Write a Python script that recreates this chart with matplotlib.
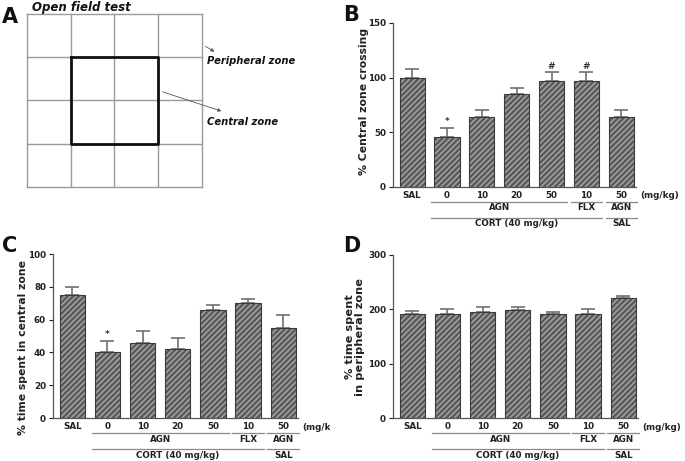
import matplotlib
matplotlib.use("Agg")
import matplotlib.pyplot as plt
import matplotlib.transforms as mtransforms
from matplotlib.transforms import Bbox
import numpy as np

plt.rcParams['font.family'] = ['DejaVu Sans']
plt.rcParams['hatch.linewidth'] = 1.2

# ---------------- data ----------------
tick_labels = ["SAL", "0", "10", "20", "50", "10", "50"]
row2_groups = [("AGN", 1, 4), ("FLX", 5, 5), ("AGN", 6, 6)]
row3_groups = [("CORT (40 mg/kg)", 1, 5), ("SAL", 6, 6)]
unit_label = "(mg/kg)"

crossing_mean = [100, 46, 64, 85, 97, 97, 64]
crossing_sem = [8, 8, 6, 6, 8, 8, 6]
crossing_marks = {1: "*", 4: "#", 5: "#"}

central_mean = [75, 40, 46, 42, 66, 70, 55]
central_sem = [5, 7, 7, 7, 3, 2.5, 8]
central_marks = {1: "*"}

peripheral_mean = [192, 192, 196, 198, 192, 192, 221]
peripheral_sem = [5, 9, 8, 7, 4, 8, 4]
peripheral_marks = {}

W, H = 685, 461
fig = plt.figure(figsize=(W / 100, H / 100), dpi=100)

BAR_FACE = "#585858"
HATCH_COL = "#a0a0a0"
LINE_GRAY = "#8a8a8a"
ERR_GRAY = "#707070"
SMALL = 6.3


def px_axes(left, top, right, bottom):
    return fig.add_axes([left / W, 1 - bottom / H, (right - left) / W, (bottom - top) / H])


def bar_panel(ax, means, sems, marks, ylim, yticks, ylabel, label_x, label_y=0.5,
              label_size=7.8, unit_clip=None):
    x = np.arange(len(means))
    bars = ax.bar(x, means, width=0.72, color=BAR_FACE, edgecolor="#3a3a3a",
                  linewidth=0.8, hatch="//////", zorder=2)
    for b in bars:
        b._hatch_color = matplotlib.colors.to_rgba(HATCH_COL)
    ax.errorbar(x, means, yerr=[np.zeros(len(sems)), sems], fmt="none",
                ecolor=ERR_GRAY, elinewidth=1.2, capsize=5.2, capthick=1.2, zorder=1)
    for i, m in marks.items():
        ax.text(x[i], means[i] + sems[i] + (ylim[1] * 0.01), m, ha="center", va="bottom",
                fontsize=6.5, color="#333333", fontweight="bold")
    ax.set_ylim(*ylim)
    ax.set_xlim(-0.55, len(means) - 0.58)
    ax.set_yticks(yticks)
    ax.set_xticks(x)
    ax.set_xticklabels(tick_labels)
    ax.tick_params(axis="x", length=0, pad=3, labelsize=SMALL, colors="#222222")
    ax.tick_params(axis="y", length=3, width=0.8, pad=2, labelsize=SMALL, colors="#222222",
                   direction="out")
    for lab in ax.get_xticklabels() + ax.get_yticklabels():
        lab.set_fontweight("bold")
    for s in ("top", "right"):
        ax.spines[s].set_visible(False)
    for s in ("left", "bottom"):
        ax.spines[s].set_color("#555555")
        ax.spines[s].set_linewidth(0.9)
    ax.set_ylabel(ylabel, fontsize=label_size, fontweight="bold", color="#222222",
                  linespacing=1.1, va="center", ha="center")
    ax.yaxis.set_label_coords(label_x, label_y)

    base = ax.get_xaxis_transform()

    def off(dy):
        return mtransforms.offset_copy(base, fig=fig, x=0, y=-dy, units="dots")

    half = 0.45
    for name, a, b in row2_groups:
        ax.plot([a - half, b + half], [0, 0], color=LINE_GRAY, lw=0.9,
                transform=off(15), clip_on=False)
        ax.text((a + b) / 2, 0, name, transform=off(21), ha="center", va="center",
                fontsize=SMALL, fontweight="bold", color="#222222")
    for name, a, b in row3_groups:
        ax.plot([a - half, b + half], [0, 0], color=LINE_GRAY, lw=0.9,
                transform=off(31), clip_on=False)
        ax.text((a + b) / 2, 0, name, transform=off(37), ha="center", va="center",
                fontsize=SMALL, fontweight="bold", color="#222222")
    t = ax.text(len(means) - 1 + 0.55, 0, unit_label, transform=off(9), ha="left",
                va="center", fontsize=SMALL, fontweight="bold", color="#222222")
    if unit_clip is not None:
        t.set_clip_on(True)
        t.set_clip_box(Bbox([[0, 0], [unit_clip, H]]))


# Panel B
axB = px_axes(393, 23, 636, 187)
bar_panel(axB, crossing_mean, crossing_sem, crossing_marks, (0, 150), [0, 50, 100, 150],
          "% Central zone crossing", label_x=-29 / 243, label_y=0.52)

# Panel C
axC = px_axes(53, 254, 298, 418)
bar_panel(axC, central_mean, central_sem, central_marks, (0, 100), [0, 20, 40, 60, 80, 100],
          "% time spent in central zone", label_x=-30 / 245, label_y=0.43, unit_clip=330)

# Panel D
axD = px_axes(393, 255, 638, 418)
bar_panel(axD, peripheral_mean, peripheral_sem, peripheral_marks, (0, 300), [0, 100, 200, 300],
          "% time spent\nin peripheral zone", label_x=-38 / 245, label_y=0.5, label_size=8.2)

# Panel A: open field schematic
axA = fig.add_axes([0, 0, 1, 1], zorder=-1)
axA.set_xlim(0, W)
axA.set_ylim(H, 0)
axA.axis("off")
n_cells = 4
gx0, gx1, gy0, gy1 = 27, 202, 14, 187
xs = np.linspace(gx0, gx1, n_cells + 1)
ys = np.linspace(gy0, gy1, n_cells + 1)
for xv in xs:
    axA.plot([xv, xv], [gy0, gy1], color="#9a9a9a", lw=1.0)
for yv in ys:
    axA.plot([gx0, gx1], [yv, yv], color="#9a9a9a", lw=1.0)
axA.plot([xs[1], xs[3], xs[3], xs[1], xs[1]], [ys[1], ys[1], ys[3], ys[3], ys[1]],
         color="#111111", lw=2.0)
axA.text(32, 7, "Open field test", fontsize=8.5, fontweight="bold", style="italic",
         ha="left", va="center", color="#111111")
axA.annotate("", xy=(217, 53), xytext=(203, 45),
             arrowprops=dict(arrowstyle="-|>", color="#555555", lw=0.6, mutation_scale=5))
axA.text(207, 61, "Peripheral zone", fontsize=7.2, fontweight="bold", style="italic",
         ha="left", va="center", color="#111111")
axA.annotate("", xy=(224, 112), xytext=(160, 91),
             arrowprops=dict(arrowstyle="-|>", color="#555555", lw=0.6, mutation_scale=5))
axA.text(207, 122, "Central zone", fontsize=7.2, fontweight="bold", style="italic",
         ha="left", va="center", color="#111111")

for letter, (lx, ly) in {"A": (2, 17), "B": (343, 15), "C": (2, 246), "D": (343, 246)}.items():
    fig.text(lx / W, 1 - ly / H, letter, fontsize=15, fontweight="bold", ha="left",
             va="center", color="#111111")

fig.savefig("out.png", dpi=100)
